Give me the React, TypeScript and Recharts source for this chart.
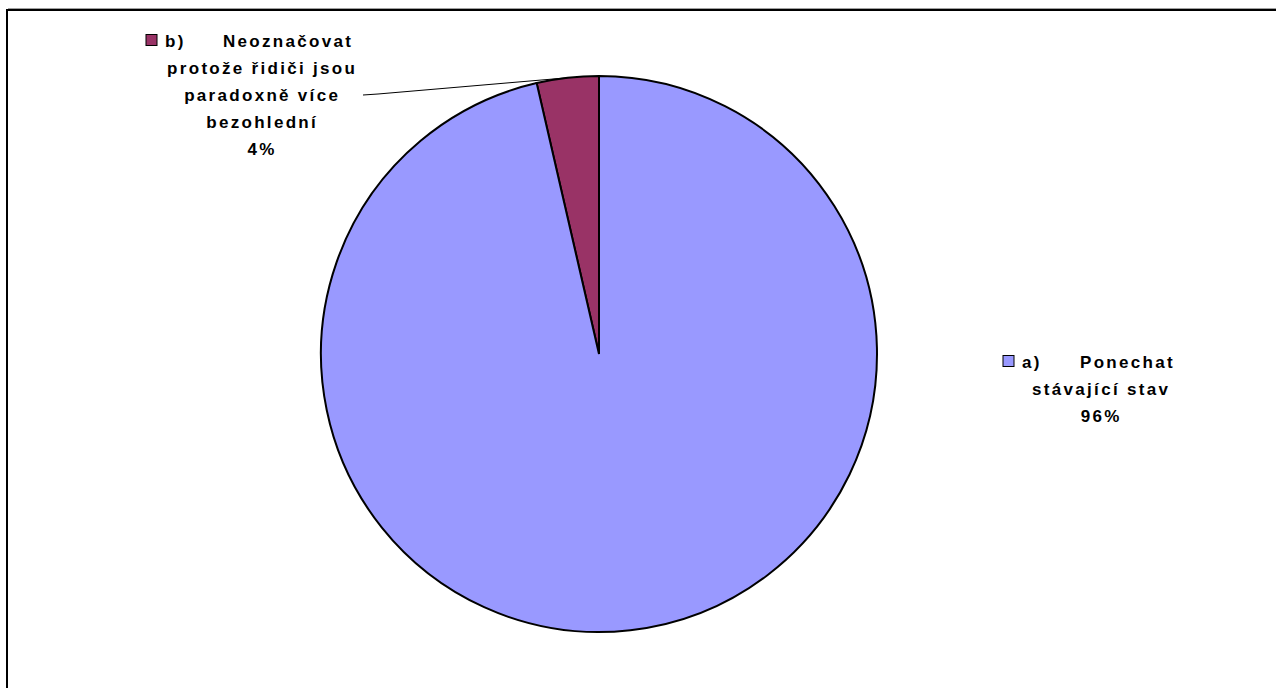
import React from "react";
import { PieChart, Pie, Cell } from "recharts";

const categories = ["b)      Neoznačovat protože řidiči jsou paradoxně více bezohlední", "a)      Ponechat stávající stav"];
const values = [3.6, 96.4];
const percentLabels = ["4%", "96%"];
const colors = ["#993366", "#9999FF"];
const labelLines: string[][] = [
  ["protože řidiči jsou", "paradoxně více", "bezohlední"],
  ["stávající stav"],
];
const firstWords = [["b)", "Neoznačovat"], ["a)", "Ponechat"]];

const data = categories.map((name, i) => ({ name, value: values[i] }));

const FONT = "'Liberation Sans', Arial, sans-serif";
const RAD = Math.PI / 180;
const LS = 2.3;

const renderLabel = (props: any) => {
  const { cx, cy, index, midAngle, outerRadius } = props;
  const lineH = 27;
  const textProps = {
    fontFamily: FONT,
    fontSize: 17,
    fontWeight: 700,
    fill: "#000",
    letterSpacing: LS,
  } as any;
  let blockCx: number, baseY: number, keyX: number, word1X: number, word2X: number;
  let leader: React.ReactNode = null;
  if (index === 0) {
    blockCx = cx - 338 + LS / 2;
    baseY = cy - 307.5;
    keyX = cx - 453;
    word1X = cx - 434;
    word2X = cx - 376;
    const px = cx + outerRadius * Math.cos(-midAngle * RAD);
    const py = cy + outerRadius * Math.sin(-midAngle * RAD);
    leader = (
      <polyline
        points={`${px},${py} ${cx - 221},${cy - 260} ${cx - 236},${cy - 259}`}
        fill="none"
        stroke="#000"
        strokeWidth={1}
      />
    );
  } else {
    blockCx = cx + 501 + LS / 2;
    baseY = cy + 13.5;
    keyX = cx + 404;
    word1X = cx + 423;
    word2X = cx + 481;
  }
  const lines = labelLines[index];
  return (
    <g key={`lbl-${index}`}>
      {leader}
      <rect x={keyX} y={baseY - 12} width={11} height={11} fill={colors[index]} stroke="#000" strokeWidth={1} />
      <text x={word1X} y={baseY} {...textProps}>{firstWords[index][0]}</text>
      <text x={word2X} y={baseY} {...textProps}>{firstWords[index][1]}</text>
      {lines.map((l, i) => (
        <text key={i} x={blockCx} y={baseY + lineH * (i + 1)} textAnchor="middle" {...textProps}>{l}</text>
      ))}
      <text x={blockCx} y={baseY + lineH * (lines.length + 1)} textAnchor="middle" {...textProps}>{percentLabels[index]}</text>
    </g>
  );
};

export default function App() {
  return (
    <div style={{ position: "absolute", left: 0, top: 0, width: 1276, height: 688, overflow: "hidden", background: "#fff" }}>
      <div style={{ position: "absolute", left: 8, top: 8, width: 1400, height: 1, background: "#a0a0a0" }} />
      <div style={{ position: "absolute", left: 6, top: 9, width: 1400, height: 800, border: "2px solid #000", boxSizing: "border-box" }} />
      <div style={{ position: "absolute", left: 0, top: 0 }}>
        <PieChart width={1276} height={688} margin={{ top: 0, right: 0, bottom: 0, left: 0 }}>
          <Pie
            data={data}
            dataKey="value"
            nameKey="name"
            cx={599}
            cy={354}
            outerRadius={278}
            innerRadius={0}
            startAngle={90}
            endAngle={450}
            stroke="#000"
            strokeWidth={2}
            isAnimationActive={false}
            label={renderLabel}
            labelLine={false}
          >
            {data.map((d, i) => (
              <Cell key={i} fill={colors[i]} />
            ))}
          </Pie>
        </PieChart>
      </div>
    </div>
  );
}
